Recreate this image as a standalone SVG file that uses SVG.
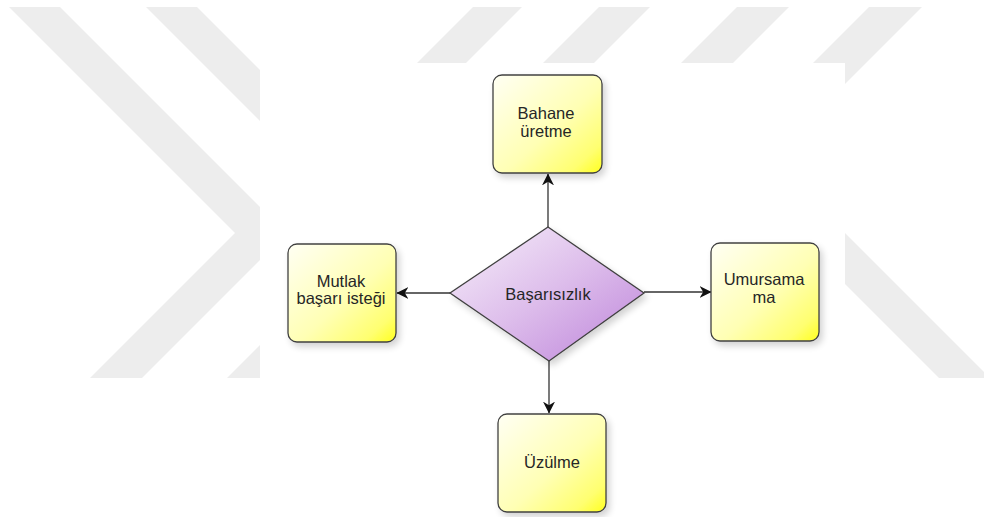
<svg xmlns="http://www.w3.org/2000/svg" width="984" height="517" viewBox="0 0 984 517">
  <style>
    .band { fill: #ededed; }
    .box { fill: url(#boxFill); stroke: #404040; stroke-width: 1.3; filter: url(#shadow); }
    .dia { fill: url(#diaFill); stroke: #404040; stroke-width: 1.3; filter: url(#shadow); }
    .lbl { font-family: "Liberation Sans", Arial, sans-serif; font-size: 16.5px; fill: #262626; text-anchor: middle; }
    .edge { fill: none; stroke: #333333; stroke-width: 1.3; marker-end: url(#arrow); }
  </style>
  <defs>
    <linearGradient id="boxFill" x1="0" y1="0" x2="1" y2="1">
      <stop offset="0" stop-color="#fffff4"/>
      <stop offset="0.55" stop-color="#ffffb4"/>
      <stop offset="0.85" stop-color="#ffff70"/>
      <stop offset="1" stop-color="#ffff1e"/>
    </linearGradient>
    <linearGradient id="diaFill" x1="0" y1="0" x2="1" y2="1">
      <stop offset="0" stop-color="#f7f0fa"/>
      <stop offset="0.5" stop-color="#ddbdeb"/>
      <stop offset="1" stop-color="#bd83da"/>
    </linearGradient>
    <filter id="shadow" x="-20%" y="-20%" width="150%" height="150%">
      <feGaussianBlur in="SourceAlpha" stdDeviation="3.5"/>
      <feOffset dx="3" dy="4" result="b"/>
      <feComponentTransfer><feFuncA type="linear" slope="0.18"/></feComponentTransfer>
      <feMerge><feMergeNode/><feMergeNode in="SourceGraphic"/></feMerge>
    </filter>
    <filter id="soft"><feGaussianBlur stdDeviation="0.6"/></filter>
    <marker id="arrow" viewBox="0 0 10 10" refX="9.5" refY="5" markerWidth="12" markerHeight="12" markerUnits="userSpaceOnUse" orient="auto">
      <path d="M0,0 L10,5 L0,10 L3,5 Z" fill="#111111"/>
    </marker>
  </defs>

  <rect width="984" height="517" fill="#ffffff"/>

  <!-- background chevron bands -->
  <g id="backdrop" filter="url(#soft)">
    <polygon class="band" points="9,7 60,7 286.5,233.5 142,378 90,378 235,233"/>
    <polygon class="band" points="146,7 197,7 423.5,233.5 279,378 227,378 372,233"/>
    <polygon class="band" points="473,7 522,7 439,90 390,90"/>
    <polygon class="band" points="599,7 650,7 567,90 516,90"/>
    <polygon class="band" points="737,7 789,7 706,90 654,90"/>
    <polygon class="band" points="869,7 922,7 839,90 786,90"/>
    <polygon class="band" points="761,200 812,200 990,378 939,378"/>
  </g>
  <rect id="panel" x="260" y="63" width="585" height="454" fill="#ffffff"/>

  <!-- connectors -->
  <g id="connectors">
    <path class="edge" d="M548,227 L548,174"/>
    <path class="edge" d="M450,293 L397,293"/>
    <path class="edge" d="M644,292 L711,292"/>
    <path class="edge" d="M549,361 L549,413"/>
  </g>

  <g id="node-basarisizlik">
    <polygon class="dia" points="548,227 644,293 549,361 450,293"/>
    <text class="lbl" x="548" y="300">Başarısızlık</text>
  </g>

  <g id="node-bahane">
    <rect class="box" x="493" y="75" width="109" height="98" rx="9"/>
    <text class="lbl" x="546" y="119">Bahane</text>
    <text class="lbl" x="546" y="137">üretme</text>
  </g>

  <g id="node-mutlak">
    <rect class="box" x="288" y="244" width="108" height="98" rx="9"/>
    <text class="lbl" x="341" y="287">Mutlak</text>
    <text class="lbl" x="341" y="304">başarı isteği</text>
  </g>

  <g id="node-umursama">
    <rect class="box" x="711" y="243" width="108" height="98" rx="9"/>
    <text class="lbl" x="764" y="285">Umursama</text>
    <text class="lbl" x="764" y="303">ma</text>
  </g>

  <g id="node-uzulme">
    <rect class="box" x="498" y="414" width="108" height="98" rx="9"/>
    <text class="lbl" x="552" y="468">Üzülme</text>
  </g>
</svg>
